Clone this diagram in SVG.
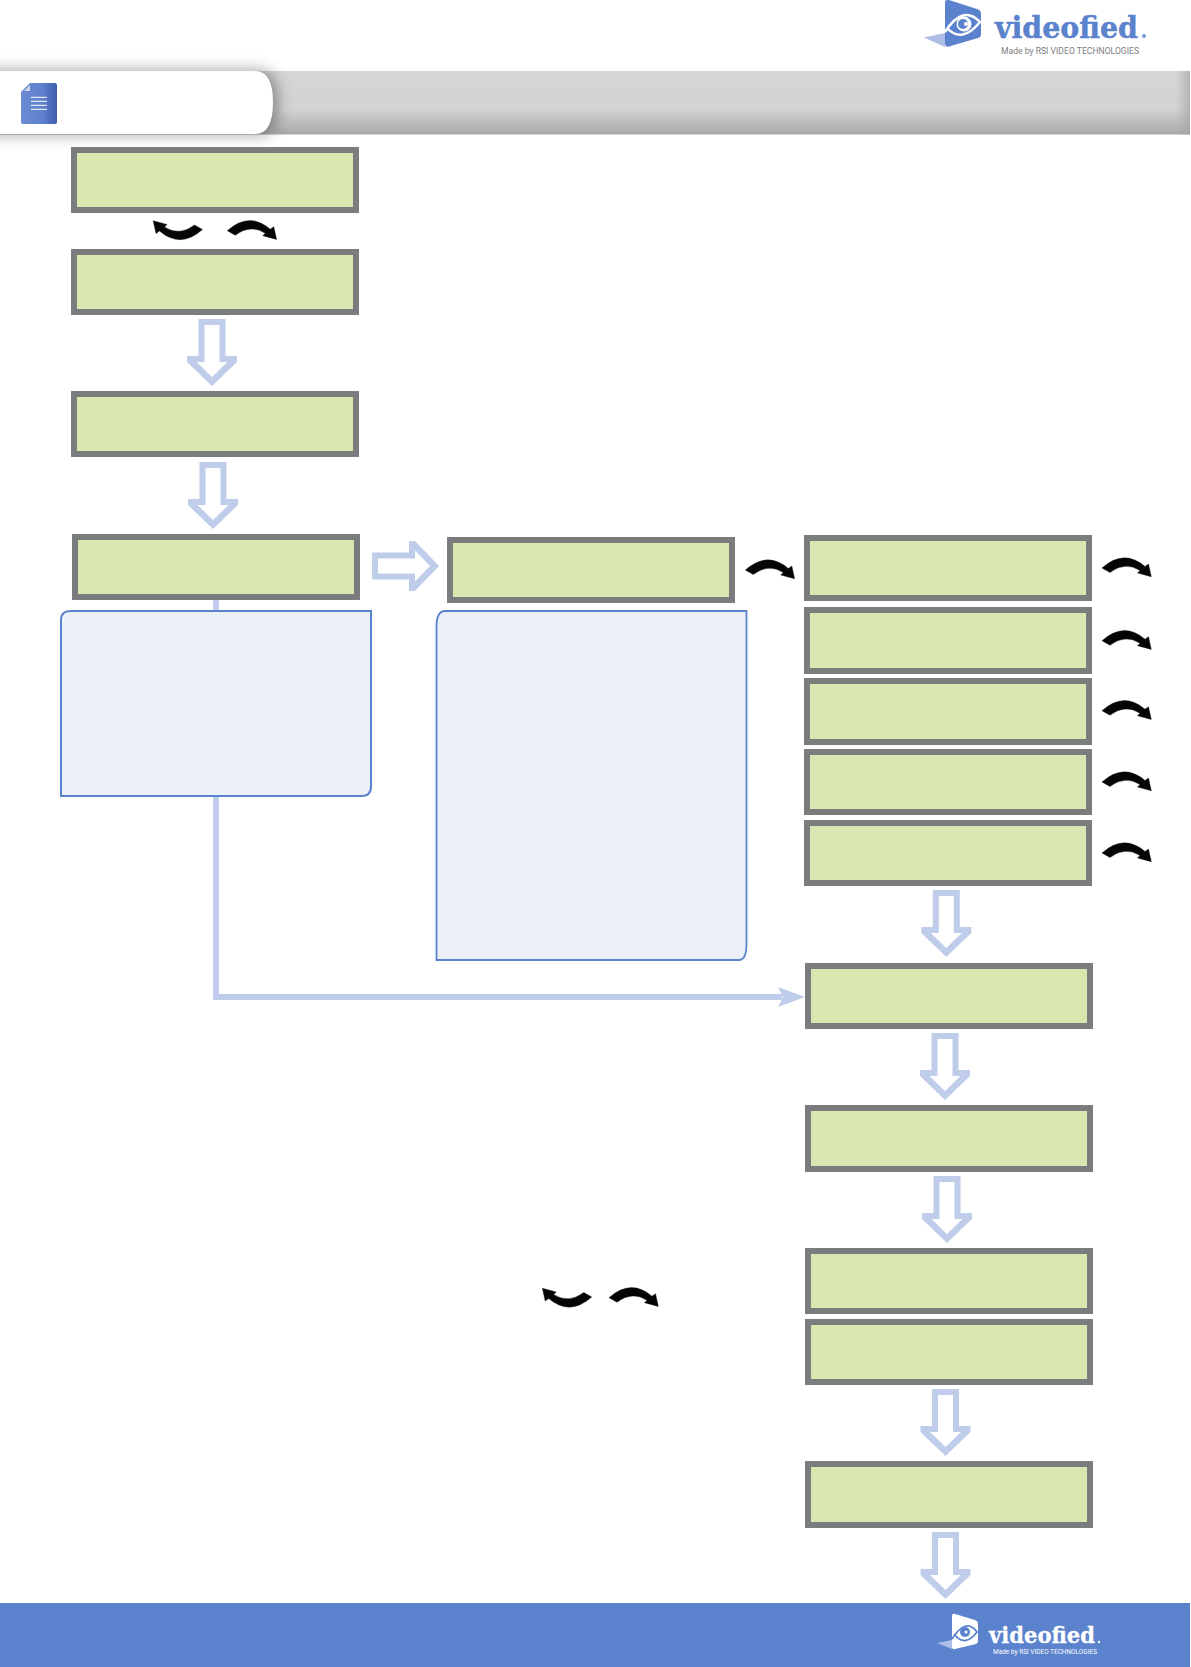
<svg xmlns="http://www.w3.org/2000/svg" xmlns:xlink="http://www.w3.org/1999/xlink" width="1191" height="1667" viewBox="0 0 1191 1667">
<style>
.lcd{fill:#d8e7b0;stroke:#7b7c7d;stroke-width:6}
.note{fill:#ecf0f8;stroke:#5b82cd}
.blk{fill:#bfcdea;fill-rule:evenodd}
.line{fill:none;stroke:#bfcdea;stroke-width:6}
.curve{fill:#050505;stroke:#050505;stroke-width:0.4}
.logo{font-family:"DejaVu Serif","Liberation Serif",serif;font-weight:700}
.sub{font-family:"Roboto","Liberation Sans",sans-serif}
</style>
<defs>
<path id="blockArrow" d="M-13.5,0H13.5V37H25V43L0,67L-25,43V37H-13.5ZM-7.5,6V43H-15.5L0,58L15.5,43H7.5V6Z"/>
<path id="curveArrow" d="M0,0Q22,-19.500 43,-1.500L46.500,-4L49.300,8.700L35.500,5L38,2.500Q23,-7 8,4.500Z"/>
<linearGradient id="barGrad" x1="0" y1="0" x2="0" y2="1">
<stop offset="0" stop-color="#d4d5d7"/><stop offset="0.6" stop-color="#d2d3d5"/><stop offset="1" stop-color="#a8a8a9"/>
</linearGradient>
<linearGradient id="barEnd" x1="0" y1="0" x2="1" y2="0">
<stop offset="0" stop-color="#a6a6a7" stop-opacity="0"/><stop offset="1" stop-color="#a0a0a1" stop-opacity="0.65"/>
</linearGradient>
<linearGradient id="docGrad" x1="0" y1="0" x2="1" y2="0">
<stop offset="0" stop-color="#6b8cd2"/><stop offset="0.6" stop-color="#5f80cc"/><stop offset="1" stop-color="#3d5cb0"/>
</linearGradient>
<filter id="tabShadow" x="-15%" y="-60%" width="130%" height="220%">
<feGaussianBlur stdDeviation="8"/>
</filter>
</defs>

<g id="header">
<rect x="0" y="71" width="1190" height="63.500" fill="url(#barGrad)"/>
<rect x="1176" y="71" width="14" height="63.500" fill="url(#barEnd)"/>
<path d="M-30,71H255Q273,71 273,102.500Q273,134 255,134H-30Z" fill="#000" fill-opacity="0.4" filter="url(#tabShadow)" transform="translate(4,0)"/>
<path d="M0,71H255Q273,71 273,102.500Q273,134 255,134H0Z" fill="#fff"/>
<g id="doc-icon">
<path d="M30,83H55Q57,83 57,85V122Q57,124 55,124H23Q21,124 21,122V92Z" fill="url(#docGrad)"/>
<path d="M24,91L30,85V91Z" fill="#cfdaf0"/>
<path d="M31,97.300H47M31,101.300H47M31,105.300H47M31,109.300H47" stroke="#fff" stroke-width="1" fill="none"/>
</g>
</g>

<g id="logo-top">
<path d="M924,37.500L945,33V47Z" fill="#aebde6"/>
<path d="M945,3Q945,-1 949,0L977,9Q981,10 981,14V34Q981,37 978,38L949,46.500Q945,47.500 945,43Z" fill="#5b82cd"/>
<path d="M945,32Q963,4 980,22Q962,44 947,28" fill="none" stroke="#fff" stroke-width="2.500"/>
<circle cx="964" cy="24" r="7.500" fill="#fff"/>
<circle cx="963" cy="24" r="5" fill="#5b82cd"/>
<circle cx="966" cy="24" r="2" fill="#fff"/>
<text class="logo" x="995" y="38" font-size="30" fill="#5b82cd" stroke="#5b82cd" stroke-width="0.500" textLength="143" lengthAdjust="spacingAndGlyphs">videofied</text>
<circle cx="1144" cy="36" r="2" fill="#7c9ad6"/>
<text class="sub" x="1001" y="54" font-size="9.500" fill="#7c7d80" textLength="138" lengthAdjust="spacingAndGlyphs">Made by RSI VIDEO TECHNOLOGIES</text>
</g>

<g id="connectors">
<path class="line" d="M216,600V997H782"/>
<path d="M805,997L778,987L783,997L778,1007Z" fill="#bfcdea"/>
<use href="#blockArrow" class="blk" x="212" y="319"/>
<use href="#blockArrow" class="blk" x="213" y="462"/>
<use href="#blockArrow" class="blk" transform="translate(372,566) rotate(-90)"/>
<use href="#blockArrow" class="blk" x="946.300" y="890"/>
<use href="#blockArrow" class="blk" x="945" y="1033"/>
<use href="#blockArrow" class="blk" x="947" y="1176"/>
<use href="#blockArrow" class="blk" x="945.500" y="1389"/>
<use href="#blockArrow" class="blk" x="945.500" y="1532"/>
<use href="#curveArrow" class="curve" x="227.300" y="230.700"/>
<use href="#curveArrow" class="curve" transform="translate(202.500,229.500) rotate(180)"/>
<use href="#curveArrow" class="curve" x="745.300" y="570"/>
<use href="#curveArrow" class="curve" x="1102" y="568"/>
<use href="#curveArrow" class="curve" x="1102" y="640.700"/>
<use href="#curveArrow" class="curve" x="1102" y="710.700"/>
<use href="#curveArrow" class="curve" x="1102" y="782"/>
<use href="#curveArrow" class="curve" x="1102" y="853"/>
<use href="#curveArrow" class="curve" x="609" y="1297.700"/>
<use href="#curveArrow" class="curve" transform="translate(591.700,1297) rotate(180)"/>
</g>

<g id="node-1"><rect class="lcd" x="74" y="150" width="282" height="60"/></g>
<g id="node-2"><rect class="lcd" x="74" y="252" width="282" height="60"/></g>
<g id="node-3"><rect class="lcd" x="74" y="394" width="282" height="60"/></g>
<g id="node-4"><rect class="lcd" x="75" y="537" width="282" height="60"/></g>
<g id="node-5"><rect class="lcd" x="450" y="540" width="282" height="60"/></g>
<g id="node-6"><rect class="lcd" x="807" y="538" width="282" height="60"/></g>
<g id="node-7"><rect class="lcd" x="807" y="610" width="282" height="61"/></g>
<g id="node-8"><rect class="lcd" x="807" y="681" width="282" height="61"/></g>
<g id="node-9"><rect class="lcd" x="807" y="752" width="282" height="60"/></g>
<g id="node-10"><rect class="lcd" x="807" y="823" width="282" height="60"/></g>
<g id="node-11"><rect class="lcd" x="808" y="966" width="282" height="60"/></g>
<g id="node-12"><rect class="lcd" x="808" y="1108" width="282" height="61"/></g>
<g id="node-13"><rect class="lcd" x="808" y="1251" width="282" height="60"/></g>
<g id="node-14"><rect class="lcd" x="808" y="1322" width="282" height="60"/></g>
<g id="node-15"><rect class="lcd" x="808" y="1464" width="282" height="61"/></g>

<g id="note-1"><path class="note" stroke-width="2" d="M61,796V620Q61,611 70,611H371V786Q371,796 362,796Z"/></g>
<g id="note-2"><path class="note" stroke-width="1.800" d="M436.500,960V627Q436.500,611 445,611H746.500V944Q746.500,960 739,960Z"/></g>

<g id="footer">
<rect x="0" y="1603" width="1190" height="64" fill="#5b82cd"/>
<path d="M937,1643L952,1640V1649Z" fill="#aebde6"/>
<path d="M952,1616Q952,1613 955,1614L975,1620Q978,1621 978,1624V1641Q978,1643 976,1644L955,1649Q952,1650 952,1647Z" fill="#fff"/>
<path d="M952,1639Q966,1617 977,1632Q965,1648 954,1634" fill="none" stroke="#5b82cd" stroke-width="1.800"/>
<circle cx="965" cy="1632" r="5" fill="#5b82cd"/>
<circle cx="966" cy="1632" r="1.500" fill="#fff"/>
<text class="logo" x="989" y="1643" font-size="23" fill="#fff" stroke="#fff" stroke-width="0.300" textLength="106" lengthAdjust="spacingAndGlyphs">videofied</text>
<circle cx="1099" cy="1642" r="1.200" fill="#fff"/>
<text class="sub" x="993" y="1654" font-size="7.500" fill="#fff" textLength="104" lengthAdjust="spacingAndGlyphs">Made by RSI VIDEO TECHNOLOGIES</text>
</g>
</svg>
